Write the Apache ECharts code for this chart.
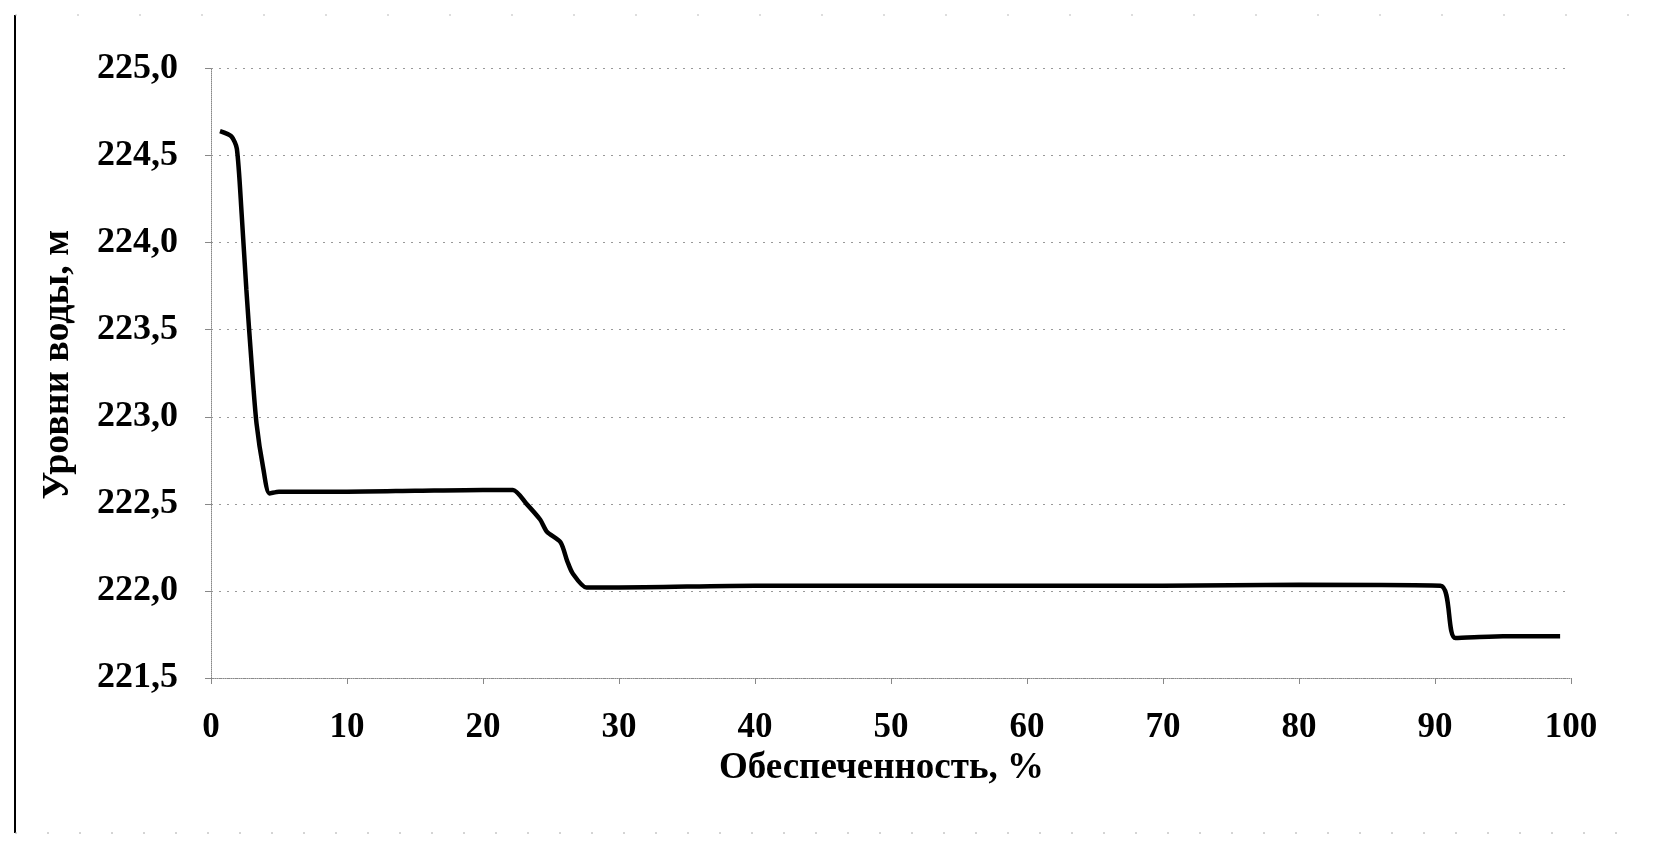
<!DOCTYPE html>
<html>
<head>
<meta charset="utf-8">
<script src="https://cdn.jsdelivr.net/npm/echarts@6/dist/echarts.min.js"></script>
<style>
html,body{margin:0;padding:0;background:#fff;}
#chart{width:1654px;height:847px;}
</style>
</head>
<body>
<div id="chart"></div>
<script>
var percent = [0.66, 1.5, 1.9, 2.25, 2.6, 3.0, 3.35, 3.85, 4.3, 5, 10, 15, 20, 22.2, 23.2, 24.2, 24.7, 25.7, 26.2, 26.6, 27.6, 30, 40, 50, 60, 70, 80, 90.4, 91.5, 95, 99.2];
var level = [224.64, 224.61, 224.54, 224.17, 223.73, 223.29, 222.96, 222.70, 222.56, 222.57, 222.57, 222.575, 222.58, 222.58, 222.50, 222.41, 222.34, 222.28, 222.17, 222.10, 222.02, 222.02, 222.03, 222.03, 222.03, 222.03, 222.035, 222.03, 221.73, 221.74, 221.74];
var yTickLabels = ['221,5', '222,0', '222,5', '223,0', '223,5', '224,0', '224,5', '225,0'];
var xTickLabels = ['0', '10', '20', '30', '40', '50', '60', '70', '80', '90', '100'];
var xTitle = 'Обеспеченность, %';
var yTitle = 'Уровни воды, м';

var points = percent.map(function (p, i) { return [p, level[i]]; });
var font = 'Liberation Serif';

var chart = echarts.init(document.getElementById('chart'));
chart.setOption({
  animation: false,
  backgroundColor: '#fff',
  grid: { left: 211, right: 83, top: 68.5, bottom: 169, containLabel: false },
  xAxis: {
    type: 'value', min: 0, max: 100, interval: 10,
    name: xTitle, nameLocation: 'middle', nameGap: 70,
    nameTextStyle: { fontFamily: font, fontWeight: 'bold', fontSize: 37, color: '#000', padding: [0, 19, 0, 0] },
    axisLine: { show: true, lineStyle: { color: '#888', type: 'dotted', width: 1 } },
    axisTick: { show: true, inside: false, length: 6, lineStyle: { color: '#888', width: 1 } },
    axisLabel: {
      margin: 32, fontFamily: font, fontWeight: 'bold', fontSize: 35, color: '#000',
      formatter: function (v) { return xTickLabels[Math.round(v / 10)]; }
    },
    splitLine: { show: false }
  },
  yAxis: {
    type: 'value', min: 221.5, max: 225, interval: 0.5,
    name: yTitle, nameLocation: 'middle', nameGap: 134, nameRotate: 90,
    nameTextStyle: { fontFamily: font, fontWeight: 'bold', fontSize: 38, color: '#000', padding: [0, 0, 0, 17] },
    axisLine: { show: true, lineStyle: { color: '#888', type: 'dotted', width: 1 } },
    axisTick: { show: true, length: 6, lineStyle: { color: '#888', width: 1 } },
    axisLabel: {
      margin: 33, fontFamily: font, fontWeight: 'bold', fontSize: 36, color: '#000',
      formatter: function (v) { return yTickLabels[Math.round((v - 221.5) / 0.5)]; }
    },
    splitLine: { show: true, lineStyle: { color: '#999', type: [2, 6], width: 1 } }
  },
  graphic: [
    { type: 'line', shape: { x1: 15, y1: 15, x2: 15, y2: 833 }, style: { stroke: '#000', lineWidth: 2 } },
    { type: 'line', shape: { x1: 15, y1: 833, x2: 1640, y2: 833 }, style: { stroke: '#aaa', lineWidth: 1, lineDash: [2, 30] } },
    { type: 'line', shape: { x1: 15, y1: 15, x2: 1640, y2: 15 }, style: { stroke: '#bbb', lineWidth: 1, lineDash: [2, 60] } }
  ],
  series: [{
    type: 'line',
    data: points,
    showSymbol: false,
    smooth: 0.25,
    lineStyle: { color: '#000', width: 4.5 },
    itemStyle: { color: '#000' }
  }]
});
</script>
</body>
</html>
